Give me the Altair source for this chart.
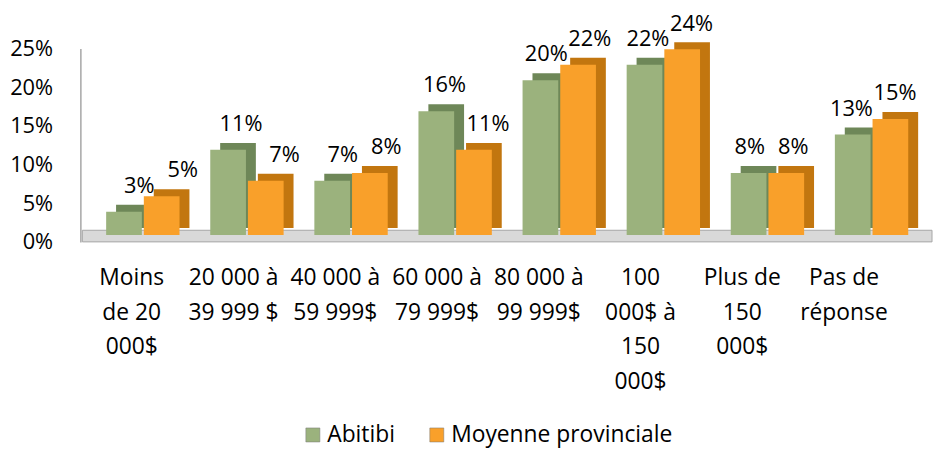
import altair as alt
import pandas as pd

categories = ["Moins|de 20|000$", "20 000 à|39 999 $", "40 000 à|59 999$", "60 000 à|79 999$",
              "80 000 à|99 999$", "100|000$ à|150|000$", "Plus de|150|000$", "Pas de|réponse"]
series = ["Abitibi", "Moyenne provinciale"]
abitibi = [3, 11, 7, 16, 20, 22, 8, 13]
provinciale = [5, 7, 8, 11, 22, 24, 8, 15]
y_ticks = [0, 5, 10, 15, 20, 25]

front_colors = ["#9bb27d", "#f9a02a"]
side_colors = ["#6e8758", "#c2760f"]
bar_offsets = [-19, 19]
label_offsets = [8, 52]

rows = []
for c, a, p in zip(categories, abitibi, provinciale):
    rows.append({"cat": c, "serie": series[0], "val": a, "label": f"{a}%"})
    rows.append({"cat": c, "serie": series[1], "val": p, "label": f"{p}%"})
df = pd.DataFrame(rows)

FONT = "Open Sans"
W, H = 821, 195
BW = 36
FRONT_BASE = 0.9   # depth illusion, in axis units
BACK_BASE = 1.8

y_scale = alt.Scale(domain=[0, 25], nice=False, zero=False)
y_axis = alt.Axis(values=y_ticks, labelExpr="datum.value + '%'",
                  labelFont=FONT, labelFontSize=22, labelColor="#000000",
                  labelPadding=28, ticks=False, grid=False,
                  labelOverlap=False, labelBound=False, labelFlush=False,
                  domainColor="#a6a6a6", domainWidth=1.5)

x_axis = alt.Axis(labelExpr="split(datum.label, '|')", labelAngle=0,
                  labelFont=FONT, labelFontSize=23, labelColor="#000000",
                  labelLineHeight=35, labelPadding=25, ticks=False,
                  domain=False, labelBaseline="top", labelOverlap=False)
x_label_scale = alt.Scale(paddingInner=0, paddingOuter=0)
x_bar_scale = alt.Scale(range=[10.5, 850.5], paddingInner=0.3, paddingOuter=0.15)

color_enc = alt.Color("serie:N", sort=series,
                      scale=alt.Scale(domain=series, range=front_colors),
                      legend=alt.Legend(title=None, orient="none", direction="horizontal",
                                        legendX=223, legendY=378, labelFont=FONT,
                                        labelFontSize=23, labelColor="#000000",
                                        labelLimit=400,
                                        symbolType="square", symbolSize=200,
                                        symbolStrokeColor="#777777", symbolStrokeWidth=0.5,
                                        columnPadding=30, labelOffset=3))

floor = alt.Chart(pd.DataFrame({"a": [0]})).mark_rect(
    color="#d9d9d9", stroke="#a6a6a6", strokeWidth=1
).encode(
    x=alt.value(2), x2=alt.value(W + 38),
    y=alt.YDatum(0, type="quantitative", scale=y_scale, axis=y_axis, title=None),
    y2=alt.datum(1.5),
)

layers = [floor]
for s, sc, off in zip(series, side_colors, bar_offsets):
    b = alt.Chart(df).transform_filter(alt.datum.serie == s).transform_calculate(
        ftop=f"datum.val + {FRONT_BASE}", fbot=f"{FRONT_BASE}",
        btop=f"datum.val + {BACK_BASE}", bbot=f"{BACK_BASE}")
    xb = alt.X("cat:N", sort=categories, title=None, scale=x_bar_scale, axis=None)
    side = b.mark_bar(width=BW, xOffset=off + 10, color=sc).encode(
        x=xb, y=alt.Y("btop:Q", scale=y_scale, axis=y_axis, title=None),
        y2=alt.Y2("bbot:Q"))
    front = b.mark_bar(width=BW, xOffset=off).encode(
        x=xb, y=alt.Y("ftop:Q", scale=y_scale, axis=y_axis, title=None),
        y2=alt.Y2("fbot:Q"), color=color_enc)
    layers += [side, front]

for i, (s, off) in enumerate(zip(series, label_offsets)):
    b = alt.Chart(df).transform_filter(alt.datum.serie == s)
    xl = alt.X("cat:N", sort=categories, title=None, scale=x_label_scale,
               axis=x_axis if i == 0 else None)
    txt = b.mark_text(font=FONT, fontSize=22, color="#000000", xOffset=off, yOffset=-33,
                      baseline="middle", align="center").encode(
        x=xl, y=alt.Y("val:Q", scale=y_scale, axis=y_axis, title=None), text="label:N")
    layers.append(txt)

chart = alt.layer(*layers).resolve_scale(x="independent").properties(
    width=W, height=H,
    autosize=alt.AutoSizeParams(type="none"),
    padding={"left": 73, "top": 39, "right": 41, "bottom": 206},
).configure_view(stroke=None)

chart.save("out.html", embed_options={"renderer": "svg", "actions": False})
